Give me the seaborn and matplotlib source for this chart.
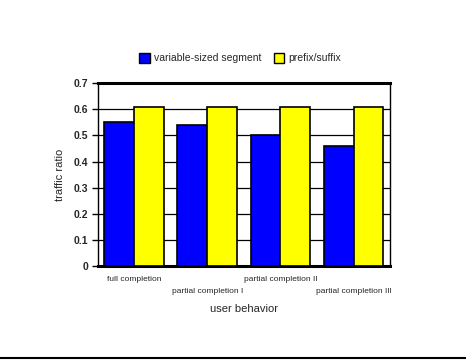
import pandas as pd
import numpy as np
import matplotlib
matplotlib.use("Agg")
import matplotlib.pyplot as plt
import seaborn as sns
from matplotlib.lines import Line2D

# data
behaviors = ["full completion", "partial completion I", "partial completion II", "partial completion III"]
schemes = ["variable-sized segment", "prefix/suffix"]
vs_segment = [0.55, 0.54, 0.50, 0.46]
prefix_suffix = [0.61, 0.61, 0.61, 0.61]

df = pd.DataFrame({
    "behavior": behaviors * 2,
    "scheme": [schemes[0]] * 4 + [schemes[1]] * 4,
    "ratio": vs_segment + prefix_suffix,
})

sns.set_style("white")
plt.rcParams["font.family"] = ["Liberation Sans", "DejaVu Sans"]

fig = plt.figure(figsize=(4.66, 3.6), dpi=100)
ax = fig.add_axes([0.210, 0.261, 0.627, 0.508])

sns.barplot(data=df, x="behavior", y="ratio", hue="scheme",
            palette=["#0000ff", "#ffff00"], saturation=1, width=0.82,
            edgecolor="black", linewidth=1.2, ax=ax, zorder=3)

ax.set_ylim(0, 0.7)
ax.set_yticks(np.arange(0, 0.71, 0.1))
ax.set_yticklabels(["0"] + [f"{v:.1f}" for v in np.arange(0.1, 0.71, 0.1)],
                   fontsize=7.5, fontweight="bold")
ax.yaxis.grid(True, color="black", linewidth=0.9)
ax.set_axisbelow(True)
ax.tick_params(axis="y", direction="out", length=4, width=1, color="black", left=True, pad=3)
ax.tick_params(axis="x", length=0, pad=7)

labels = [b if i % 2 == 0 else "\n" + b for i, b in enumerate(behaviors)]
ax.set_xticks(range(len(behaviors)))
ax.set_xticklabels(labels, fontsize=6, linespacing=2.1)

ax.set_xlabel("user behavior", fontsize=8, labelpad=6)
ax.set_ylabel("traffic ratio", fontsize=8, labelpad=6)

for side, w in [("top", 2.2), ("bottom", 2.2), ("left", 1.0), ("right", 1.0)]:
    ax.spines[side].set_visible(True)
    ax.spines[side].set_color("black")
    ax.spines[side].set_linewidth(w)

ax.legend_.remove()
handles = [plt.Rectangle((0, 0), 1, 1, facecolor=c, edgecolor="black", linewidth=1)
           for c in ["#0000ff", "#ffff00"]]
fig.legend(handles, schemes, loc="center", bbox_to_anchor=(0.515, 0.838), ncol=2,
           frameon=False, fontsize=7.5, handlelength=1.0, handleheight=1.0,
           handletextpad=0.4, columnspacing=1.2)

# rule along the bottom edge of the page
fig.add_artist(Line2D([0, 1], [0.006, 0.006], color="black", linewidth=1.5,
                      transform=fig.transFigure))

fig.savefig("out.png", dpi=100)
